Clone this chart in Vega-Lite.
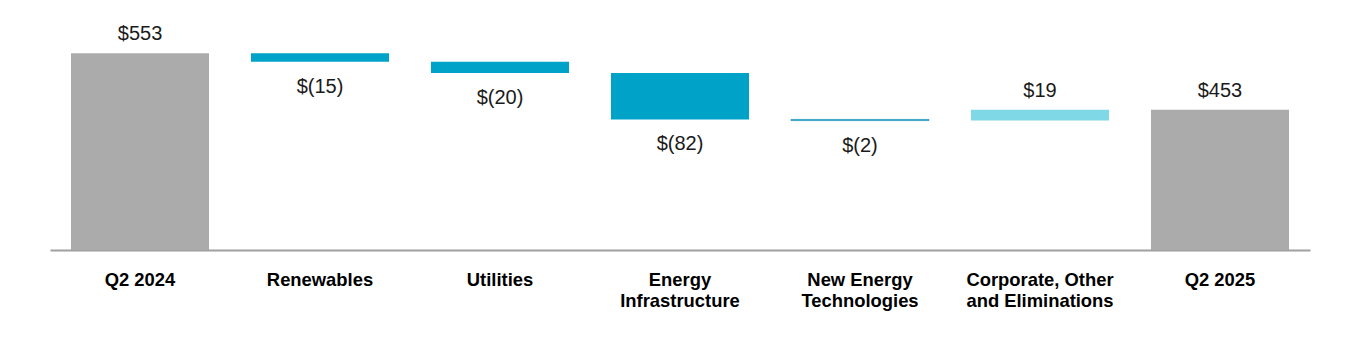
{
  "$schema": "https://vega.github.io/schema/vega-lite/v6.json",
  "autosize": {"type": "none"},
  "padding": {"left": 50, "top": 0, "right": 50, "bottom": 100},
  "width": 1260,
  "height": 250,
  "background": "white",
  "config": {"view": {"stroke": null}, "font": "Liberation Sans"},
  "data": {
    "values": [
      {"category": "Q2 2024", "start": 0, "end": 553, "label": "$553", "kind": "total", "dir": "up"},
      {"category": "Renewables", "start": 553, "end": 538, "label": "$(15)", "kind": "neg", "dir": "down"},
      {"category": "Utilities", "start": 538, "end": 518, "label": "$(20)", "kind": "neg", "dir": "down"},
      {"category": "Energy|Infrastructure", "start": 518, "end": 436, "label": "$(82)", "kind": "neg", "dir": "down"},
      {"category": "New Energy|Technologies", "start": 436, "end": 434, "label": "$(2)", "kind": "neg2", "dir": "down"},
      {"category": "Corporate, Other|and Eliminations", "start": 434, "end": 453, "label": "$19", "kind": "pos", "dir": "up"},
      {"category": "Q2 2025", "start": 0, "end": 453, "label": "$453", "kind": "total", "dir": "up"}
    ]
  },
  "encoding": {
    "x": {
      "field": "category",
      "type": "nominal",
      "sort": null,
      "scale": {"paddingInner": 0.2333, "paddingOuter": 0.1167},
      "axis": {
        "title": null,
        "labelAngle": 0,
        "ticks": false,
        "domainColor": "#A0A0A0",
        "domainWidth": 2,
        "labelFontSize": 18.4,
        "labelFontWeight": "bold",
        "labelColor": "#000000",
        "labelPadding": 20,
        "labelBaseline": "top",
        "labelLineHeight": 21,
        "labelLimit": 300,
        "labelExpr": "split(datum.value, '|')"
      }
    }
  },
  "layer": [
    {
      "mark": {"type": "bar", "clip": true},
      "encoding": {
        "y": {"field": "start", "type": "quantitative", "scale": {"domain": [205, 647.3], "zero": false, "nice": false}, "axis": null},
        "y2": {"field": "end"},
        "color": {
          "field": "kind",
          "type": "nominal",
          "scale": {"domain": ["total", "neg", "neg2", "pos"], "range": ["#ABABAB", "#00A3C7", "#2A9CC0", "#7ED8E6"]},
          "legend": null
        },
        "stroke": {
          "field": "kind",
          "type": "nominal",
          "scale": {"domain": ["total", "neg", "neg2", "pos"], "range": ["#ABABAB", "#00A3C7", "#2A9CC0", "#7ED8E6"]},
          "legend": null
        },
        "strokeWidth": {"condition": {"test": "datum.kind == 'neg2'", "value": 0.8}, "value": 0}
      }
    },
    {
      "transform": [{"filter": "datum.dir == 'up'"}],
      "mark": {"type": "text", "fontSize": 20, "baseline": "middle", "dy": -19, "color": "#1A1A1A"},
      "encoding": {
        "y": {"field": "end", "type": "quantitative"},
        "text": {"field": "label"}
      }
    },
    {
      "transform": [{"filter": "datum.dir == 'down'"}],
      "mark": {"type": "text", "fontSize": 20, "baseline": "middle", "dy": 25, "color": "#1A1A1A"},
      "encoding": {
        "y": {"field": "end", "type": "quantitative"},
        "text": {"field": "label"}
      }
    }
  ]
}
